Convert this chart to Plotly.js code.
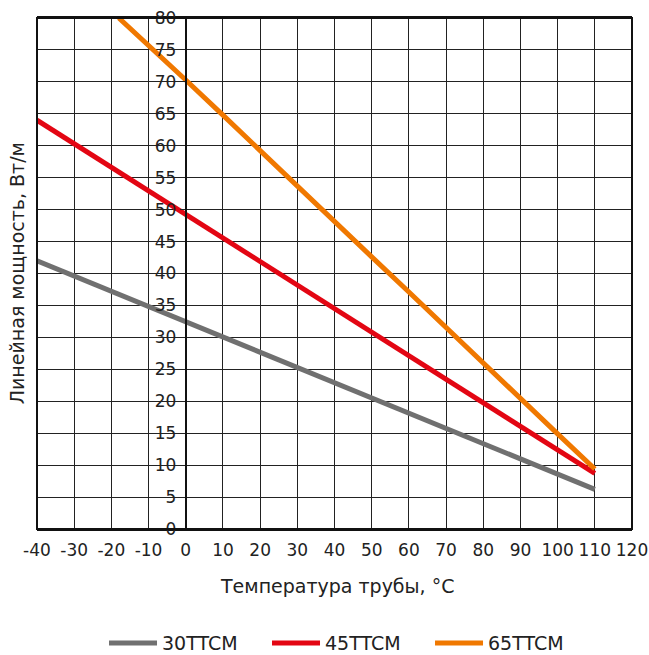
<!DOCTYPE html>
<html>
<head>
<meta charset="utf-8">
<script src="https://cdn.plot.ly/plotly-3.0.1.min.js"></script>
<style>html,body{margin:0;padding:0;background:#fff;}#chart{width:649px;height:655px;}</style>
</head>
<body>
<div id="chart"></div>
<script>
const names = ['30TTCM', '45TTCM', '65TTCM'];
const colors = ['#707070', '#e30613', '#f07800'];

const x30 = [-40, -30, -20, -10, 0, 10, 20, 30, 40, 50, 60, 70, 80, 90, 100, 110];
const y30 = [42.0, 39.6, 37.2, 34.8, 32.4, 30.0, 27.7, 25.3, 22.9, 20.5, 18.1, 15.7, 13.3, 10.9, 8.5, 6.2];

const x45 = [-40, -30, -20, -10, 0, 10, 20, 30, 40, 50, 60, 70, 80, 90, 100, 110];
const y45 = [64.0, 60.3, 56.6, 53.0, 49.3, 45.6, 41.9, 38.2, 34.5, 30.8, 27.1, 23.4, 19.8, 16.1, 12.4, 8.7];

const x65 = [-18, -10, 0, 10, 20, 30, 40, 50, 60, 70, 80, 90, 100, 110];
const y65 = [80.0, 75.8, 70.3, 64.8, 59.2, 53.7, 48.1, 42.6, 37.1, 31.5, 26.0, 20.5, 14.9, 9.4];

const xTicks = [-40, -30, -20, -10, 0, 10, 20, 30, 40, 50, 60, 70, 80, 90, 100, 110, 120];
const yTicks = [0, 5, 10, 15, 20, 25, 30, 35, 40, 45, 50, 55, 60, 65, 70, 75, 80];

const xTitle = 'Температура трубы, °C';
const yTitle = 'Линейная мощность, Вт/м';

const FONT = '"DejaVu Sans", sans-serif';
const TXT = '#222';

const xs = [x30, x45, x65];
const ys = [y30, y45, y65];
const traces = names.map((n, i) => ({
  type: 'scatter', mode: 'lines', name: n,
  x: xs[i], y: ys[i],
  line: {color: colors[i], width: 5},
  cliponaxis: true
}));

const layout = {
  width: 649, height: 655,
  margin: {l: 37, r: 17, t: 18, b: 126, autoexpand: false},
  paper_bgcolor: '#fff', plot_bgcolor: '#fff',
  font: {family: FONT, size: 16, color: TXT},
  showlegend: true,
  legend: {orientation: 'h', x: 0.537, xanchor: 'center', xref: 'container',
           y: 0.018, yanchor: 'middle', yref: 'container',
           entrywidth: 100, entrywidthmode: 'pixels',
           font: {family: FONT, size: 19, color: TXT}, itemwidth: 48, traceorder: 'normal'},
  xaxis: {
    range: [-40, 120], tickvals: xTicks, ticktext: xTicks.map(String),
    showgrid: true, gridcolor: '#222', gridwidth: 1,
    zeroline: false, showline: true, linecolor: '#111', linewidth: 2, mirror: true,
    ticks: 'outside', ticklen: 5, tickcolor: 'rgba(0,0,0,0)',
    tickfont: {family: FONT, size: 17, color: TXT},
    automargin: false,
    fixedrange: true
  },
  yaxis: {
    range: [0, 80], tickvals: yTicks, ticktext: yTicks.map(String),
    anchor: 'free', position: 0.25,
    showgrid: true, gridcolor: '#222', gridwidth: 1,
    zeroline: false, showline: true, linecolor: '#111', linewidth: 2,
    ticks: 'outside', ticklen: 5, tickwidth: 1, tickcolor: '#222',
    tickfont: {family: FONT, size: 17, color: TXT},
    automargin: false,
    fixedrange: true
  },
  shapes: [
    {type: 'rect', xref: 'paper', yref: 'paper', x0: 0, x1: 1, y0: 0, y1: 1,
     line: {color: '#111', width: 2}, layer: 'above'}
  ],
  annotations: [
    {text: yTitle, xref: 'paper', yref: 'paper', x: -0.034, y: 0.5, textangle: -90,
     showarrow: false, xanchor: 'center', yanchor: 'middle',
     font: {family: FONT, size: 19, color: TXT}},
    {text: xTitle, xref: 'paper', yref: 'paper', x: 0.504, y: -0.1115,
     showarrow: false, xanchor: 'center', yanchor: 'middle',
     font: {family: FONT, size: 19, color: TXT}}
  ]
};

Plotly.newPlot('chart', traces, layout, {displayModeBar: false, staticPlot: true});
</script>
</body>
</html>
